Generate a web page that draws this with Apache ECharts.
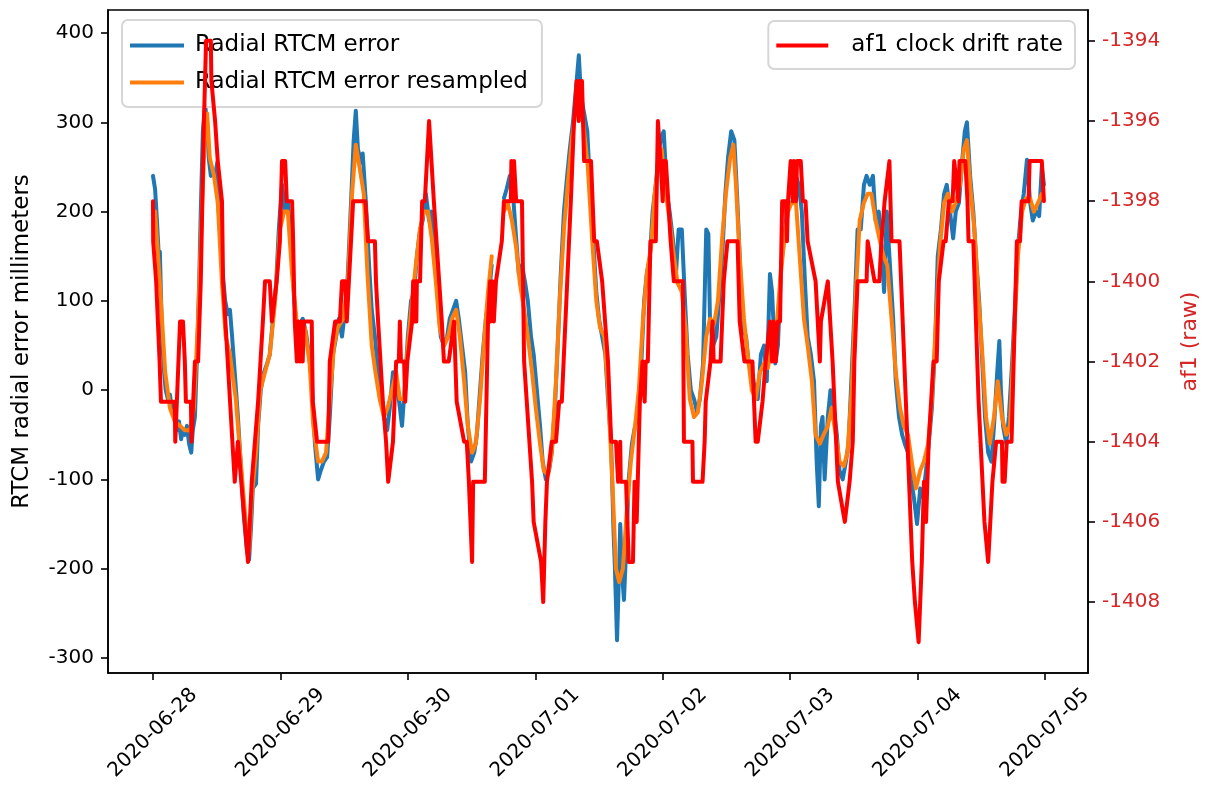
<!DOCTYPE html>
<html>
<head>
<meta charset="utf-8">
<script src="https://cdn.jsdelivr.net/npm/echarts@6/dist/echarts.min.js"></script>
<style>
  html, body { margin: 0; padding: 0; background: #ffffff; }
  #chart { width: 1215px; height: 796px; }
</style>
</head>
<body>
<div id="chart"></div>
<script>
// Time is measured in hours since 2020-06-28 00:00.
const dayTicks = [0, 24, 48, 72, 96, 120, 144, 168];
const dayLabels = ['2020-06-28', '2020-06-29', '2020-06-30', '2020-07-01',
                   '2020-07-02', '2020-07-03', '2020-07-04', '2020-07-05'];
const errorTicks = [-300, -200, -100, 0, 100, 200, 300, 400];
const af1Ticks = [-1408, -1406, -1404, -1402, -1400, -1398, -1396, -1394];

// Radial RTCM error [hour, millimeters]
const radialError = [
  [0,240],[0.4,225],[0.75,190],[1.1,150],[1.3,155],[1.7,60],[2.1,20],[2.4,0],[2.8,-10],[3.2,-5],
  [3.6,-25],[4.1,-30],[4.5,-45],[4.9,-35],[5.3,-55],[5.6,-45],[6.0,-50],[6.4,-40],[6.8,-60],[7.2,-70],
  [7.5,-45],[7.9,-30],[8.3,40],[8.7,120],[9.0,200],[9.4,290],[9.8,320],[10.2,300],[10.5,260],[10.9,240],
  [11.3,245],[11.7,240],[12.1,255],[12.4,200],[13.0,140],[13.6,100],[14.1,85],[14.5,90],[14.9,60],[15.4,20],
  [16.0,-30],[16.6,-90],[17.1,-140],[17.7,-180],[18.1,-190],[18.5,-150],[18.8,-110],[19.4,-105],[19.8,-40],[20.3,0],
  [20.9,20],[21.5,30],[22.0,40],[22.6,80],[23.2,120],[23.7,180],[24.3,230],
  [24.9,200],[25.4,210],[26.0,170],[26.6,100],[27.1,70],[27.7,75],[28.2,80],[28.8,65],[29.4,40],[29.9,10],
  [30.5,-60],[31.1,-100],[31.6,-90],[32.2,-80],[32.8,-75],[33.3,-30],[33.9,40],[34.5,60],[35.0,80],[35.6,60],
  [36.2,90],[36.7,130],[37.3,210],[37.8,280],[38.2,313],[38.6,270],[39.2,255],[39.5,265],[40.1,210],[40.7,140],
  [41.2,90],[41.8,60],[42.4,20],[42.9,0],[43.5,-30],[44.1,-45],[44.6,-20],[45.2,20],[45.8,10],[46.3,-10],
  [46.9,-40],[47.5,10],[48.0,60],
  [48.6,100],[49.2,110],[49.7,150],[50.3,180],[50.8,190],[51.4,220],[52.0,190],[52.5,200],[53.1,150],[53.7,100],
  [54.2,60],[54.8,50],[55.4,60],[55.9,80],[56.5,90],[57.1,100],[57.6,80],[58.2,50],[58.8,20],[59.3,-40],
  [59.9,-80],[60.5,-70],[61.0,-50],[61.6,0],[62.1,40],[62.7,80],[63.3,110],[63.8,140],
  [65.0,null],
  [66.1,215],[66.6,225],[67.2,240],[67.8,220],[68.4,170],[68.9,130],[69.5,140],[70.1,120],[70.6,100],[71.2,60],
  [71.7,40],[72.3,0],[72.9,-40],[73.4,-80],[74.0,-100],[74.6,-90],[75.1,-70],[75.7,-20],[76.3,60],[76.8,130],
  [77.4,200],[78.0,240],[78.5,270],[79.1,300],[79.7,340],[80.2,375],[80.6,330],[81.2,310],[81.8,290],[82.3,230],
  [82.9,170],[83.5,110],[84.0,80],[84.6,60],[85.2,40],[85.7,-10],[86.3,-60],[86.7,-150],[87.0,-200],[87.4,-280],
  [87.8,-200],[88.0,-150],[88.3,-200],[88.7,-235],[89.1,-180],[89.6,-100],[90.2,-60],[90.8,-40],[91.3,-30],[91.9,20],
  [92.5,100],[93.0,130],[93.6,150],[94.1,200],[94.7,230],[95.3,270],[95.8,285],[96.2,290],[96.8,220],[97.3,200],
  [97.9,170],[98.5,130],[99.0,180],[99.6,180],[100.2,100],[100.7,40],[101.3,0],[101.9,-10],[102.5,-25],[103.0,-10],
  [103.6,30],[104.2,180],[104.6,175],[104.9,80],[105.5,50],[106.1,60],[106.6,100],[107.2,150],[107.8,220],[108.3,260],
  [108.9,290],[109.5,280],[110.0,220],[110.5,150],[111.1,70],[111.7,60],[112.2,30],[112.8,20],[113.4,0],[113.9,-10],
  [114.5,40],[115.1,50],[115.6,10],[116.2,130],[116.6,110],[117.2,30],[117.7,50],[118.3,140],[118.9,170],[119.4,200],
  [120.0,210],[120.5,210],[121.1,240],[121.6,230],[122.2,200],[122.8,120],[123.3,60],[123.9,40],[124.5,10],[125.0,-80],
  [125.4,-130],[125.8,-40],[126.1,-30],[126.5,-100],[127.1,-30],[127.6,0],[128.2,-20],[128.8,-50],[129.3,-90],[129.9,-100],
  [130.5,-80],[131.0,-60],[131.6,20],[132.2,100],[132.7,180],[133.3,180],[133.9,230],[134.4,240],[135.0,230],[135.6,240],
  [136.1,190],[136.7,200],[137.3,150],[137.7,110],[138.2,200],[138.8,140],[139.4,80],[139.9,10],[140.5,-30],[141.1,-50],
  [141.6,-60],[142.2,-70],[142.8,-100],[143.3,-120],[143.9,-150],[144.5,-110],[145.0,-120],[145.6,-90],[146.1,-60],[146.7,-20],
  [147.3,50],[147.8,150],[148.4,180],[149.0,220],[149.5,230],[150.1,200],[150.7,170],[151.2,200],[151.8,210],[152.3,250],
  [152.9,290],[153.3,300],[153.9,240],[154.5,200],[155.0,150],[155.6,100],[156.2,30],[156.7,-30],[157.3,-70],[157.9,-80],
  [158.4,-40],[159.0,20],[159.4,55],[159.7,0],[160.1,-40],[160.7,-60],[161.2,-30],[161.8,30],[162.4,100],[162.9,160],
  [163.5,200],[164.0,220],[164.6,258],[165.2,210],[165.7,190],[166.3,200],[166.9,195],[167.4,250],[167.8,230]
];

// Resampled radial error [hour, millimeters]
const radialResampled = [
  [0.4,200],[1.3,120],[2.3,20],[3.2,-20],[4.1,-35],[5.1,-40],[6.0,-45],[7.0,-45],[7.7,-20],[8.5,80],
  [9.2,200],[9.8,290],[10.2,310],[10.7,260],[11.5,240],[12.2,210],[13.0,120],[13.7,60],[14.5,40],[15.6,-10],
  [16.8,-100],[17.5,-150],[18.1,-180],[18.6,-120],[19.4,-70],[20.2,0],[21.1,20],[22.0,40],[23.0,100],[23.9,180],
  [24.7,200],[25.4,200],[26.2,130],[27.0,80],[27.7,70],[28.6,70],[29.5,30],[30.2,-40],[31.1,-80],[31.8,-80],
  [32.6,-70],[33.3,-10],[34.1,50],[34.8,70],[35.8,80],[36.7,120],[37.5,220],[38.2,275],[38.9,250],[39.7,220],
  [40.4,130],[41.2,50],[41.9,20],[42.7,-10],[43.5,-30],[44.2,-20],[45.0,0],[45.8,20],[46.5,-10],[47.3,-10],
  [48.0,50],[48.8,100],[49.5,140],[50.3,180],[51.0,200],[51.8,200],[52.5,170],[53.3,120],[54.0,70],[54.8,50],
  [55.6,60],[56.3,80],[57.1,90],[57.8,60],[58.6,10],[59.3,-40],[60.1,-70],[60.8,-60],[61.6,-10],[62.3,50],
  [63.1,110],[63.8,150],
  [65.0,null],
  [66.1,200],[66.8,210],[67.6,190],[68.4,160],[69.1,120],[69.9,90],[70.6,60],[71.4,20],[72.1,-20],[72.9,-60],
  [73.6,-90],[74.4,-95],[75.1,-70],[75.9,10],[76.6,100],[77.4,180],[78.1,230],[78.9,280],[79.7,320],[80.4,340],
  [81.2,290],[81.9,250],[82.7,170],[83.5,100],[84.2,70],[85.0,60],[85.7,0],[86.5,-100],[87.2,-200],[87.8,-215],
  [88.5,-200],[89.3,-130],[90.0,-80],[90.8,-40],[91.5,0],[92.3,80],[93.0,130],[93.8,160],[94.5,220],[95.3,260],
  [95.8,270],[96.6,220],[97.3,190],[98.1,150],[98.8,120],[99.6,110],[100.3,70],[101.1,-10],[101.9,-30],[102.6,-25],
  [103.4,10],[104.2,60],[104.9,80],[105.7,75],[106.4,100],[107.2,170],[107.9,220],[108.7,260],[109.3,275],[109.8,230],
  [110.5,150],[111.3,80],[112.0,40],[112.8,0],[113.5,-10],[114.3,20],[115.1,30],[115.8,25],[116.6,50],[117.3,60],
  [118.1,120],[118.9,170],[119.6,200],[120.3,210],[121.1,210],[121.8,150],[122.6,80],[123.3,50],[124.1,10],[124.8,-50],
  [125.6,-60],[126.3,-50],[127.1,-40],[127.8,-20],[128.6,-50],[129.3,-80],[130.1,-85],[130.8,-70],[131.6,0],[132.3,100],
  [133.1,190],[133.9,210],[134.6,220],[135.3,220],[136.1,190],[136.8,170],[137.6,150],[138.3,140],[139.1,80],[139.9,20],
  [140.7,-20],[141.4,-40],[142.2,-50],[142.9,-80],[143.7,-110],[144.5,-90],[145.2,-80],[146.0,-60],[146.7,-10],[147.5,80],
  [148.2,160],[149.0,210],[149.7,220],[150.5,200],[151.2,210],[152.0,230],[152.7,270],[153.3,280],[153.9,230],[154.7,180],
  [155.4,110],[156.2,40],[156.9,-30],[157.6,-60],[158.4,-30],[159.1,10],[159.9,-30],[160.7,-50],[161.4,-40],[162.1,50],
  [162.9,150],[163.7,200],[164.4,215],[165.2,215],[165.9,200],[166.7,210],[167.4,220]
];

// af1 clock drift rate, raw broadcast value [hour, af1]
const af1Drift = [
  [0.0,-1398],[0.04,-1399],[0.6,-1400],[1.25,-1402],[1.5,-1403],[4.1,-1403],[4.2,-1404],[5.1,-1401],[5.65,-1401],[6.0,-1402],
  [6.2,-1403],[7.15,-1403],[7.25,-1404],[7.9,-1402],[8.5,-1402],[9.0,-1400],[9.6,-1396],[9.8,-1395],[10.0,-1394],[10.9,-1394],
  [11.0,-1395],[11.7,-1396],[12.2,-1397],[13.0,-1398],[13.2,-1400],[15.4,-1405],[16.0,-1404],[17.9,-1407],[18.6,-1405],[19.2,-1404],
  [19.8,-1403],[20.7,-1401],[21.1,-1400],[22.0,-1400],[22.4,-1401],[23.3,-1400],[23.9,-1399],[24.3,-1397],[24.9,-1397],[25.2,-1398],
  [26.2,-1398],[26.4,-1399],[26.7,-1401],[27.1,-1402],[27.3,-1401],[27.7,-1402],[27.9,-1401],[28.2,-1402],[28.4,-1401],[29.9,-1401],
  [30.1,-1403],[30.9,-1404],[33.0,-1404],[33.3,-1402],[34.3,-1401],[35.2,-1401],[35.6,-1400],[36.2,-1400],[36.5,-1401],[36.9,-1400],
  [37.7,-1398],[40.0,-1398],[40.5,-1399],[41.8,-1399],[42.0,-1400],[42.4,-1401],[43.3,-1403],[43.9,-1404],[44.3,-1405],[45.2,-1404],
  [45.8,-1402],[46.3,-1402],[46.5,-1401],[46.7,-1402],[47.3,-1402],[47.5,-1403],[47.9,-1402],[48.8,-1401],[49.0,-1400],[49.2,-1401],
  [49.4,-1400],[49.6,-1401],[49.7,-1400],[50.3,-1400],[50.7,-1398],[51.2,-1398],[52.0,-1396],[52.9,-1398],[53.9,-1400],[54.4,-1401],
  [54.8,-1402],[55.7,-1402],[56.7,-1401],[57.2,-1403],[58.6,-1404],[59.1,-1404],[59.5,-1405],[60.1,-1407],[60.3,-1405],[62.5,-1405],
  [63.1,-1401],[63.5,-1400],[63.6,-1401],[64.0,-1400],[64.2,-1401],[64.6,-1400],[65.7,-1399],[66.1,-1398],[67.4,-1398],[67.5,-1397],
  [67.8,-1398],[68.0,-1397],[68.4,-1398],[69.5,-1398],[69.9,-1402],[71.4,-1405],[71.7,-1406],[73.1,-1407],[73.5,-1408],[73.9,-1406],
  [74.2,-1405],[75.1,-1404],[75.9,-1404],[76.5,-1403],[77.0,-1403],[78.7,-1398],[79.3,-1396],[79.8,-1395],[80.2,-1396],[80.4,-1395],
  [80.8,-1395],[81.2,-1397],[82.5,-1397],[83.1,-1399],[83.6,-1399],[84.6,-1400],[85.7,-1402],[86.3,-1404],[87.2,-1404],[87.6,-1405],
  [88.0,-1404],[88.1,-1405],[89.1,-1405],[89.6,-1407],[90.4,-1407],[90.7,-1405],[91.1,-1406],[91.7,-1403],[92.2,-1402],[92.6,-1403],
  [92.8,-1402],[93.2,-1402],[93.7,-1399],[94.7,-1399],[95.1,-1396],[95.6,-1397],[96.0,-1398],[96.2,-1397],[96.6,-1397],[97.5,-1399],
  [98.1,-1400],[99.8,-1400],[100.0,-1404],[101.6,-1404],[101.7,-1405],[103.5,-1405],[103.9,-1404],[104.1,-1403],[105.0,-1402],[105.4,-1401],
  [105.6,-1402],[106.9,-1402],[107.5,-1400],[108.2,-1399],[110.1,-1399],[110.5,-1401],[111.4,-1402],[112.9,-1402],[113.5,-1404],[113.9,-1404],
  [114.8,-1403],[115.4,-1402],[116.2,-1401],[116.6,-1402],[116.9,-1401],[117.3,-1402],[117.7,-1401],[118.1,-1401],[118.5,-1398],[119.2,-1398],
  [119.4,-1399],[119.6,-1398],[120.1,-1397],[120.5,-1398],[120.7,-1397],[121.1,-1398],[121.3,-1397],[122.0,-1397],[122.4,-1398],[122.9,-1398],
  [123.3,-1399],[124.8,-1400],[125.2,-1401],[125.6,-1402],[125.8,-1401],[126.1,-1401],[127.1,-1400],[128.0,-1402],[129.0,-1405],[130.3,-1406],
  [131.2,-1405],[131.8,-1404],[132.1,-1402],[132.7,-1400],[134.4,-1400],[134.6,-1399],[135.9,-1400],[136.8,-1400],[137.2,-1399],[137.8,-1398],
  [138.7,-1397],[139.1,-1399],[140.6,-1399],[143.0,-1407],[143.5,-1408],[144.2,-1409],[144.8,-1407],[145.2,-1405],[145.6,-1406],[146.1,-1404],
  [147.0,-1402],[147.6,-1402],[148.0,-1400],[148.9,-1399],[149.3,-1399],[149.9,-1398],[150.6,-1398],[150.9,-1397],[151.7,-1398],[151.9,-1397],
  [153.0,-1397],[153.4,-1398],[153.6,-1399],[154.5,-1399],[155.5,-1403],[156.6,-1406],[157.3,-1407],[158.1,-1405],[158.8,-1404],[159.9,-1404],
  [160.0,-1405],[160.4,-1405],[160.8,-1404],[161.7,-1404],[162.7,-1399],[163.3,-1399],[163.6,-1398],[164.9,-1398],[165.1,-1397],[167.4,-1397],
  [167.8,-1398]
];

const FONT = '"DejaVu Sans", sans-serif';
const AF1_RED = '#d62728';
const tickStyle = { color: '#000', width: 1.6 };
const LINE_W = 4;

const chart = echarts.init(document.getElementById('chart'), null, { renderer: 'canvas' });

chart.setOption({
  animation: false,
  backgroundColor: '#ffffff',
  grid: {
    left: 108, right: 127, top: 10, bottom: 123,
    outerBoundsMode: 'none', containLabel: false,
    show: true, borderColor: '#000', borderWidth: 1.6, backgroundColor: 'transparent'
  },
  xAxis: {
    type: 'value', min: -8.47, max: 176.1,
    axisLine: { show: true, onZero: false, lineStyle: tickStyle },
    splitLine: { show: false },
    axisTick: { show: true, customValues: dayTicks, length: 7, lineStyle: tickStyle },
    axisLabel: {
      customValues: dayTicks,
      formatter: v => dayLabels[Math.round(v / 24)],
      rotate: 45, align: 'center', verticalAlign: 'middle', margin: 60,
      fontFamily: FONT, fontSize: 20, color: '#000'
    }
  },
  yAxis: [
    {
      type: 'value', position: 'left', min: -316.8, max: 425.8,
      name: 'RTCM radial error millimeters', nameLocation: 'middle', nameGap: 74, nameRotate: 90,
      nameTextStyle: { fontFamily: FONT, fontSize: 23, color: '#000' },
      axisLine: { show: true, onZero: false, lineStyle: tickStyle },
      splitLine: { show: false },
      axisTick: { show: true, customValues: errorTicks, length: 7, lineStyle: tickStyle },
      axisLabel: {
        customValues: errorTicks, margin: 14, formatter: v => String(v),
        fontFamily: FONT, fontSize: 20, color: '#000'
      }
    },
    {
      type: 'value', position: 'right', min: -1409.77, max: -1393.23,
      name: 'af1 (raw)', nameLocation: 'middle', nameGap: 91, nameRotate: 90,
      nameTextStyle: { fontFamily: FONT, fontSize: 22, color: AF1_RED },
      axisLine: { show: true, onZero: false, lineStyle: tickStyle },
      splitLine: { show: false },
      axisTick: { show: true, customValues: af1Ticks, length: 7, lineStyle: tickStyle },
      axisLabel: {
        customValues: af1Ticks, margin: 14, formatter: v => String(v),
        fontFamily: FONT, fontSize: 20, color: AF1_RED
      }
    }
  ],
  legend: [
    {
      data: ['Radial RTCM error', 'Radial RTCM error resampled'],
      orient: 'vertical', left: 122, top: 20, z: 2,
      icon: 'rect', itemWidth: 54, itemHeight: 4, itemGap: 12,
      padding: [13, 14, 12, 8],
      backgroundColor: 'rgba(255,255,255,0.8)', borderColor: '#d6d6d6', borderWidth: 2, borderRadius: 6,
      textStyle: { fontFamily: FONT, fontSize: 23, color: '#000', padding: [0, 0, 0, 6], lineHeight: 25 }
    },
    {
      data: ['af1 clock drift rate'],
      orient: 'vertical', right: 140, top: 21, z: 4,
      icon: 'rect', itemWidth: 52, itemHeight: 4,
      padding: [12, 12, 11, 8],
      backgroundColor: 'rgba(255,255,255,0.8)', borderColor: '#d6d6d6', borderWidth: 2, borderRadius: 6,
      textStyle: { fontFamily: FONT, fontSize: 23, color: '#000', padding: [0, 0, 0, 18], lineHeight: 25 }
    }
  ],
  series: [
    {
      name: 'Radial RTCM error', type: 'line', data: radialError, xAxisIndex: 0, yAxisIndex: 0,
      showSymbol: false, symbol: 'none', connectNulls: false, z: 1,
      lineStyle: { color: '#1f77b4', width: LINE_W, cap: 'round', join: 'round' }, itemStyle: { color: '#1f77b4' }
    },
    {
      name: 'Radial RTCM error resampled', type: 'line', data: radialResampled, xAxisIndex: 0, yAxisIndex: 0,
      showSymbol: false, symbol: 'none', connectNulls: false, z: 1,
      lineStyle: { color: '#ff7f0e', width: LINE_W, cap: 'round', join: 'round' }, itemStyle: { color: '#ff7f0e' }
    },
    {
      name: 'af1 clock drift rate', type: 'line', data: af1Drift, xAxisIndex: 0, yAxisIndex: 1,
      showSymbol: false, symbol: 'none', z: 3,
      lineStyle: { color: '#ff0000', width: LINE_W, cap: 'round', join: 'round' }, itemStyle: { color: '#ff0000' }
    }
  ]
});
</script>
</body>
</html>
